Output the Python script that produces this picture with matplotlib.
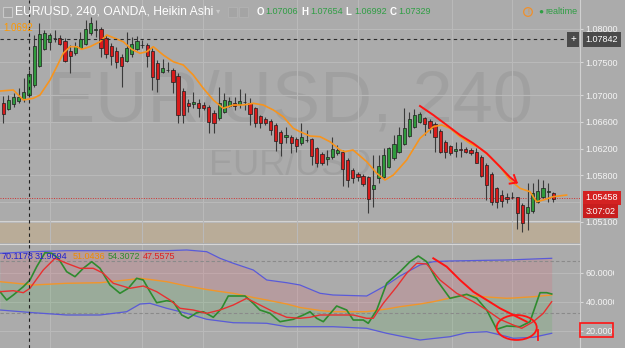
import numpy as np
import matplotlib
matplotlib.use('Agg')
import matplotlib.pyplot as plt
from matplotlib.patches import Ellipse, Rectangle

plt.rcParams['font.family'] = ['Liberation Sans', 'DejaVu Sans']

# EUR/USD 240, heikin ashi candles
opens = [1.06890, 1.06796, 1.06871, 1.06920, 1.06942, 1.07006, 1.07157, 1.07443, 1.07694, 1.07804,
         1.07862, 1.07864, 1.07819, 1.07673, 1.07634, 1.07718, 1.07774, 1.07944, 1.07990, 1.07995,
         1.07860, 1.07744, 1.07673, 1.07583, 1.07518, 1.07619, 1.07694, 1.07757, 1.07759, 1.07673,
         1.07483, 1.07357, 1.07383, 1.07383, 1.07292, 1.07071, 1.06881, 1.06871, 1.06881, 1.06856,
         1.06830, 1.06731, 1.06656, 1.06755, 1.06845, 1.06890, 1.06866, 1.06898, 1.06881, 1.06806,
         1.06690, 1.06640, 1.06615, 1.06555, 1.06454, 1.06370, 1.06379, 1.06340, 1.06279, 1.06331,
         1.06340, 1.06213, 1.06114, 1.06039, 1.06069, 1.06129, 1.06153, 1.06028, 1.05878, 1.05817,
         1.05787, 1.05768, 1.05587, 1.05753, 1.05777, 1.05927, 1.06054, 1.06153, 1.06269, 1.06389,
         1.06520, 1.06604, 1.06656, 1.06620, 1.06570, 1.06464, 1.06303, 1.06239, 1.06168, 1.06189,
         1.06189, 1.06179, 1.06153, 1.06078, 1.05953, 1.05817, 1.05602, 1.05501, 1.05467, 1.05465,
         1.05467, 1.05351, 1.05226, 1.05265, 1.05400, 1.05476, 1.05550, 1.05536]
closes = [1.06720, 1.06931, 1.06972, 1.06981, 1.07056, 1.07322, 1.07744, 1.07924, 1.07935, 1.07909,
          1.07858, 1.07774, 1.07518, 1.07598, 1.07744, 1.07845, 1.07995, 1.08094, 1.08000, 1.07709,
          1.07623, 1.07593, 1.07507, 1.07443, 1.07709, 1.07774, 1.07819, 1.07761, 1.07593, 1.07282,
          1.07242, 1.07417, 1.07385, 1.07206, 1.06705, 1.06705, 1.06841, 1.06905, 1.06815, 1.06815,
          1.06604, 1.06580, 1.06881, 1.06931, 1.06920, 1.06845, 1.06916, 1.06894, 1.06720, 1.06580,
          1.06580, 1.06580, 1.06480, 1.06318, 1.06279, 1.06404, 1.06279, 1.06243, 1.06379, 1.06325,
          1.06088, 1.05987, 1.05987, 1.06078, 1.06198, 1.06179, 1.05888, 1.05727, 1.05753, 1.05777,
          1.05667, 1.05437, 1.05652, 1.05938, 1.06103, 1.06204, 1.06269, 1.06404, 1.06505, 1.06641,
          1.06705, 1.06720, 1.06565, 1.06505, 1.06379, 1.06153, 1.06153, 1.06129, 1.06189, 1.06185,
          1.06153, 1.06129, 1.05987, 1.05787, 1.05652, 1.05400, 1.05400, 1.05416, 1.05441, 1.05469,
          1.05235, 1.05084, 1.05316, 1.05536, 1.05566, 1.05602, 1.05555, 1.05437]
highs = [1.06991, 1.07006, 1.07036, 1.07112, 1.07262, 1.07383, 1.07909, 1.08090, 1.07985, 1.07939,
         1.07985, 1.07909, 1.07864, 1.07759, 1.07808, 1.07959, 1.08135, 1.08176, 1.08135, 1.08030,
         1.07909, 1.07784, 1.07733, 1.07623, 1.07959, 1.07884, 1.07894, 1.07834, 1.07784, 1.07709,
         1.07533, 1.07544, 1.07507, 1.07408, 1.07333, 1.07107, 1.06946, 1.07056, 1.06946, 1.06905,
         1.06856, 1.06781, 1.07131, 1.07032, 1.06981, 1.06981, 1.07092, 1.07032, 1.06957, 1.06830,
         1.06705, 1.06680, 1.06640, 1.06580, 1.06479, 1.06529, 1.06404, 1.06379, 1.06589, 1.06479,
         1.06355, 1.06228, 1.06153, 1.06179, 1.06379, 1.06254, 1.06179, 1.06053, 1.05903, 1.05852,
         1.05817, 1.05787, 1.06103, 1.06103, 1.06204, 1.06228, 1.06404, 1.06529, 1.06806, 1.06755,
         1.06791, 1.06755, 1.06680, 1.06640, 1.06604, 1.06490, 1.06329, 1.06254, 1.06303, 1.06303,
         1.06228, 1.06204, 1.06204, 1.06103, 1.05978, 1.05847, 1.05626, 1.05577, 1.05527, 1.05551,
         1.05476, 1.05376, 1.05677, 1.05677, 1.05737, 1.05727, 1.05677, 1.05547]
lows = [1.06585, 1.06781, 1.06830, 1.06886, 1.06905, 1.06981, 1.07131, 1.07432, 1.07684, 1.07684,
        1.07804, 1.07759, 1.07507, 1.07337, 1.07608, 1.07709, 1.07759, 1.07909, 1.07884, 1.07583,
        1.07559, 1.07458, 1.07408, 1.07131, 1.07507, 1.07583, 1.07684, 1.07709, 1.07432, 1.07082,
        1.07056, 1.07333, 1.07357, 1.07032, 1.06580, 1.06580, 1.06755, 1.06806, 1.06680, 1.06781,
        1.06430, 1.06430, 1.06630, 1.06731, 1.06830, 1.06781, 1.06806, 1.06781, 1.06555, 1.06529,
        1.06505, 1.06555, 1.06404, 1.06168, 1.06088, 1.06279, 1.06138, 1.06153, 1.06254, 1.06303,
        1.05953, 1.05927, 1.05953, 1.05953, 1.06039, 1.06103, 1.05637, 1.05617, 1.05677, 1.05717,
        1.05637, 1.05226, 1.05325, 1.05677, 1.05753, 1.05903, 1.06028, 1.06129, 1.06254, 1.06379,
        1.06505, 1.06580, 1.06404, 1.06430, 1.06153, 1.06129, 1.06054, 1.06103, 1.06078, 1.06078,
        1.06129, 1.06103, 1.05978, 1.05772, 1.05426, 1.05351, 1.05301, 1.05321, 1.05381, 1.05437,
        1.04985, 1.04949, 1.04975, 1.05226, 1.05376, 1.05452, 1.05400, 1.05396]

# orange moving average on the price pane (x in candle index)
ma_x = [-0.64, 1.95, 3.89, 5.84, 7.14, 9.09, 10.4, 11.67, 12.98, 14.28, 15.25, 16.87, 18.81, 20.12,
        21.73, 23.35, 24.98, 26.6, 27.9, 29.18, 31.13, 33.07, 35.02, 36.96, 38.91, 40.86, 42.8, 44.75,
        46.69, 48.64, 50.58, 52.53, 54.47, 56.42, 57.72, 59.67, 61.62, 63.56, 65.51, 66.48, 68.04, 70.7,
        72.65, 74.26, 75.88, 78.48, 81.07, 83.66, 85.29, 86.91, 88.85, 90.8, 92.74, 94.69, 96.63, 98.58,
        100.53, 102.47, 103.77, 105.06, 107.0, 109.6]
ma_y = [1.07066, 1.07082, 1.06931, 1.06957, 1.07006, 1.07232, 1.07432, 1.07634, 1.07733, 1.07733,
        1.07694, 1.07733, 1.07808, 1.07909, 1.07860, 1.07808, 1.07694, 1.07634, 1.07658, 1.07733,
        1.07608, 1.07507, 1.07458, 1.07307, 1.07107, 1.06931, 1.06806, 1.06856, 1.06856, 1.06881,
        1.06856, 1.06781, 1.06680, 1.06505, 1.06454, 1.06389, 1.06379, 1.06303, 1.06179, 1.06153,
        1.06179, 1.06003, 1.05828, 1.05727, 1.05802, 1.06028, 1.06355, 1.06529, 1.06555, 1.06505,
        1.06379, 1.06279, 1.06204, 1.06078, 1.05927, 1.05727, 1.05602, 1.05551, 1.05400, 1.05426,
        1.05476, 1.05501]

# lower pane: rsi with bands
band_x = [-0.64, 5.84, 12.33, 18.81, 24.0, 26.6, 28.54, 31.79, 35.68, 39.57, 42.16, 44.75, 48.64,
          51.25, 55.14, 57.72, 61.62, 64.15, 70.7, 74.59, 77.18, 81.07, 83.66, 86.91, 90.16, 94.05,
          97.94, 99.22, 103.11, 106.69]
upper = [73.37, 74.48, 75.17, 75.17, 75.17, 75.17, 75.17, 75.17, 75.65, 74.48, 69.92, 66.48, 61.85,
         54.96, 53.09, 51.51, 45.78, 44.61, 43.92, 51.51, 57.72, 65.3, 67.58, 68.07, 68.27, 68.54,
         68.75, 68.89, 69.44, 69.92]
basis = [53.78, 51.51, 52.68, 53.09, 54.96, 56.13, 55.3, 53.78, 50.82, 48.4, 47.02, 45.78, 42.88,
         41.16, 38.4, 35.99, 33.92, 33.09, 33.09, 34.96, 36.54, 38.4, 39.98, 42.53, 44.61, 43.23,
         42.33, 42.53, 43.43, 44.61]
lower = [34.26, 32.4, 30.82, 30.82, 33.09, 38.4, 38.88, 35.44, 31.98, 27.86, 26.68, 25.5, 25.3,
         25.09, 22.75, 22.75, 22.75, 22.75, 21.64, 18.2, 16.33, 13.57, 14.61, 15.85, 18.61, 19.3,
         15.99, 14.75, 15.44, 18.2]

rsi_x = [-0.64, 0.66, 1.95, 3.89, 5.19, 6.5, 8.11, 9.42, 10.7, 12.33, 13.95, 15.56, 17.2, 18.81,
         20.76, 22.7, 24.32, 25.95, 27.24, 28.54, 29.84, 31.79, 33.07, 34.71, 35.99, 37.62, 38.91,
         40.86, 42.49, 43.77, 47.02, 48.64, 49.94, 51.89, 53.83, 56.42, 58.37, 59.67, 60.97, 62.26,
         64.86, 66.81, 68.09, 70.04, 71.01, 72.65, 74.59, 77.18, 79.12, 80.74, 82.37, 84.32, 86.91,
         90.16, 92.1, 94.05, 95.99, 97.94, 100.53, 102.47, 104.42, 105.72, 106.69]
rsi = [46.89, 41.16, 44.61, 50.33, 54.96, 64.13, 73.78, 73.37, 69.92, 60.68, 57.24, 63.02, 67.58,
       63.02, 51.51, 45.78, 49.23, 56.13, 54.96, 46.89, 39.29, 40.67, 39.98, 30.82, 28.55, 32.4,
       33.09, 29.24, 35.44, 43.92, 43.92, 38.88, 34.26, 31.98, 26.2, 27.86, 30.82, 33.09, 28.55,
       26.2, 37.02, 34.26, 27.36, 27.36, 25.09, 34.26, 52.68, 60.68, 67.58, 71.51, 67.58, 54.96,
       42.33, 45.09, 42.33, 34.26, 20.95, 23.23, 22.75, 26.2, 46.2, 46.2, 45.3]

rsima_x = [-0.64, 1.95, 3.89, 5.19, 7.78, 10.06, 12.33, 14.92, 17.51, 19.46, 21.4, 24.65, 27.24,
           29.84, 32.43, 34.38, 36.96, 39.57, 42.16, 44.75, 47.35, 49.94, 52.53, 55.14, 57.72,
           59.67, 61.62, 65.51, 68.09, 70.7, 71.98, 73.93, 76.54, 78.48, 80.43, 82.37, 84.96,
           88.21, 91.44, 94.05, 96.63, 99.22, 100.86, 103.11, 105.06, 106.69]
rsima = [46.89, 47.57, 46.2, 49.23, 61.85, 69.92, 66.48, 63.02, 63.02, 59.58, 52.68, 49.23, 50.82,
         46.89, 41.16, 35.44, 34.26, 31.98, 34.26, 37.71, 42.33, 37.71, 33.09, 29.24, 28.55, 29.24,
         30.82, 30.82, 30.82, 28.55, 28.55, 38.88, 50.33, 59.58, 66.48, 66.0, 54.96, 45.78, 39.98,
         34.26, 27.86, 23.92, 21.64, 26.2, 31.98, 39.98]

price_ticks = [1.08, 1.075, 1.07, 1.066, 1.062, 1.058, 1.051]
price_grid = price_ticks + [1.054]
osc_ticks = [60, 40, 20]
osc_levels = [68, 32]
day_lines = [9.18, 27.08, 38.91, 57.14, 69.06, 87.24, 98.91]
cross_x = 5.0
cross_price = 1.07842
last_price = 1.05458
zone_top = 1.05114

legend_vals = ['70.1178', '31.9694', '51.0436', '54.3072', '47.5575']
legend_cols = ['#2020d0', '#2020d0', '#f08a00', '#2d8a2d', '#e02020']
ohlc_names = ['O', 'H', 'L', 'C']
ohlc_vals = ['1.07006', '1.07654', '1.06992', '1.07329']

# red hand drawn marks
arrow_x = [81.07, 83.66, 86.26, 88.85, 91.44, 94.05, 96.63, 98.58, 99.88]
arrow_y = [1.06841, 1.06705, 1.06555, 1.06404, 1.06279, 1.06129, 1.05927, 1.05768, 1.05688]
osc_mark_x = [83.66, 86.26, 88.85, 91.44, 94.05, 96.63, 99.22, 101.82]
osc_mark_y = [69.92, 64.13, 54.96, 46.89, 41.16, 35.44, 30.82, 26.2]

W, H = 625, 348
bg = '#ababab'
red = '#ff1414'

fig = plt.figure(figsize=(6.25, 3.48), dpi=100, facecolor=bg)
ax = fig.add_axes([0, 1 - 243 / H, 580 / W, 243 / H], facecolor=bg)
ax2 = fig.add_axes([0, 0, 580 / W, 104 / H], facecolor=bg)

# ---- price pane
ax.set_xlim(-0.64, 112.2)
ax.set_ylim(1.04779, 1.08436)
ax.axhspan(1.04779, zone_top, color='#b9ac98', zorder=0.5)
ax.axhline(zone_top, color='#d4d4d4', lw=0.8, zorder=0.6)
for g in price_grid:
    ax.axhline(g, color='#b9b9b9', lw=0.8, zorder=1)
for d in day_lines:
    ax.axvline(d, color='#b9b9b9', lw=0.8, zorder=1)
    ax2.axvline(d, color='#b9b9b9', lw=0.8, zorder=1)

ax.text(0.5, 1 - 121.7 / 243, 'EUR/USD, 240', transform=ax.transAxes, ha='center', va='baseline',
        fontsize=52, color='k', alpha=0.06, zorder=0.8)
ax.text(0.5, 1 - 175 / 243, 'EUR/USD', transform=ax.transAxes, ha='center', va='baseline',
        fontsize=26, color='k', alpha=0.06, zorder=0.8)

x = np.arange(len(opens))
o = np.array(opens)
c = np.array(closes)
cols = np.where(c >= o, '#2f9a3c', '#d81b1b')
ax.vlines(x, lows, highs, color='#3a3a3a', lw=0.8, zorder=3)
ax.bar(x, np.maximum(np.abs(c - o), 0.00004), bottom=np.minimum(o, c), width=0.62, color=cols,
       edgecolor='#1e1e1e', linewidth=0.5, zorder=4)
ax.plot(ma_x, ma_y, color='#f7941d', lw=1.2, zorder=5)

ax.axvline(cross_x, color='#1e1e1e', lw=0.8, ls=(0, (3, 3)), zorder=6)
ax.axhline(cross_price, color='#2a2a2a', lw=0.8, ls=(0, (3, 3)), zorder=6)
ax.axhline(last_price, color='#d03030', lw=0.7, ls=(0, (1, 1.5)), zorder=2)

ax.plot(arrow_x, arrow_y, color=red, lw=1.4, zorder=8)
ax.plot([98.52, arrow_x[-1], 99.36], [1.05673, arrow_y[-1], 1.05801], color=red, lw=1.4, zorder=8)

ax.yaxis.tick_right()
ax.set_yticks(price_ticks)
ax.set_yticklabels(['%.5f' % t for t in price_ticks])
ax.tick_params(axis='y', colors='#d8d8d8', labelcolor='#f4f4f4', labelsize=6.5, length=2, pad=2)
ax.set_xticks([])
for s in ['top', 'left', 'bottom']:
    ax.spines[s].set_visible(False)
ax.spines['right'].set_color('#d0d0d0')
ax.spines['right'].set_linewidth(0.8)

box = dict(boxstyle='square,pad=0.3', ec='none')
ax.annotate('%.5f' % cross_price, xy=(1, cross_price), xycoords=('axes fraction', 'data'),
            xytext=(4, 0), textcoords='offset points', va='center', ha='left', fontsize=6.5,
            color='white', bbox=dict(box, fc='#4a4a4a'), annotation_clip=False, zorder=9)
ax.annotate('+', xy=(1, cross_price), xycoords=('axes fraction', 'data'), xytext=(-5, 0),
            textcoords='offset points', va='center', ha='center', fontsize=7, color='white',
            bbox=dict(box, fc='#4a4a4a'), annotation_clip=False, zorder=9)
ax.annotate('%.5f' % last_price, xy=(1, last_price), xycoords=('axes fraction', 'data'),
            xytext=(4, 0), textcoords='offset points', va='center', ha='left', fontsize=6.5,
            color='white', bbox=dict(box, fc='#d42222'), annotation_clip=False, zorder=9)
ax.annotate('3:07:02', xy=(1, last_price), xycoords=('axes fraction', 'data'),
            xytext=(4, -9.5), textcoords='offset points', va='center', ha='left', fontsize=6.5,
            color='white', bbox=dict(box, fc='#c81e1e'), annotation_clip=False, zorder=9)

# ---- oscillator pane
ax2.set_xlim(-0.64, 112.2)
ax2.set_ylim(8.06, 79.78)
for t in osc_ticks:
    ax2.axhline(t, color='#b9b9b9', lw=0.8, zorder=1)
ax2.fill_between(band_x, basis, upper, color='#e06070', alpha=0.2, lw=0, zorder=1.5)
ax2.fill_between(band_x, lower, basis, color='#50b050', alpha=0.18, lw=0, zorder=1.5)
for lv in osc_levels:
    ax2.axhline(lv, color='#8a8a8a', lw=0.8, ls=(0, (3, 2)), zorder=2)
ax2.plot(band_x, upper, color='#5a5ad8', lw=0.9, zorder=3)
ax2.plot(band_x, lower, color='#5a5ad8', lw=0.9, zorder=3)
ax2.plot(band_x, basis, color='#f0962a', lw=1.0, zorder=3)
ax2.plot(rsi_x, rsi, color='#2e8b2e', lw=1.2, zorder=4)
ax2.plot(rsima_x, rsima, color='#e83030', lw=1.0, zorder=4)
ax2.axvline(cross_x, color='#1e1e1e', lw=0.8, ls=(0, (3, 3)), zorder=6)

ax2.plot(osc_mark_x, osc_mark_y, color=red, lw=1.4, zorder=8)
ax2.add_patch(Ellipse((99.88, 22.19), 7.8, 17.2, fill=False, ec=red, lw=1.3, zorder=8))
ax2.plot([104.03, 104.03], [20.47, 13.57], color=red, lw=1.3, zorder=8)

ax2.yaxis.tick_right()
ax2.set_yticks(osc_ticks)
ax2.set_yticklabels(['%.4f' % t for t in osc_ticks])
ax2.tick_params(axis='y', colors='#d8d8d8', labelcolor='#f4f4f4', labelsize=6.5, length=2, pad=2)
ax2.set_xticks([])
for s in ['left', 'bottom']:
    ax2.spines[s].set_visible(False)
ax2.spines['top'].set_color('#d6d6d6')
ax2.spines['right'].set_color('#d0d0d0')
ax2.spines['top'].set_linewidth(0.8)
ax2.spines['right'].set_linewidth(0.8)

lx = [2, 35, 72.7, 108, 143]
for xp, v, col in zip(lx, legend_vals, legend_cols):
    fig.text(xp / W, 1 - 256.7 / H, v, color=col, fontsize=6.5, va='center', zorder=10)

# cut the oscillator scale labels like the screenshot does
fig.patches.append(Rectangle((614 / W, 0), 11 / W, 103 / H, transform=fig.transFigure,
                             fc=bg, ec='none', zorder=5))
fig.patches.append(Rectangle((580 / W, 1 - 337 / H), 33 / W, 14 / H, transform=fig.transFigure,
                             fill=False, ec=red, lw=1.2, zorder=6))

# ---- header
fig.patches.append(Rectangle((3 / W, 1 - 17 / H), 9 / W, 10 / H, transform=fig.transFigure,
                             fc='#a2a2a2', ec='#c8c8c8', lw=0.8, zorder=6))
fig.text(15 / W, 1 - 12 / H, 'EUR/USD, 240, OANDA, Heikin Ashi', color='white', fontsize=8.7,
         va='center')
fig.text(216 / W, 1 - 12 / H, '\u25be', color='#c8c8c8', fontsize=6, va='center')
for ix in [228, 239]:
    fig.patches.append(Rectangle((ix / W, 1 - 17 / H), 9 / W, 10 / H, transform=fig.transFigure,
                                 fc='#a4a4a4', ec='#b2b2b2', lw=0.6, zorder=6))
for k in range(4):
    fig.text((256.7 + 44.4 * k) / W, 1 - 12 / H, ohlc_names[k], color='white', fontsize=7,
             va='center', fontweight='bold')
    fig.text((265.5 + 44.4 * k) / W, 1 - 12 / H, ohlc_vals[k], color='#2f9e44', fontsize=6.5,
             va='center')
fig.text(3 / W, 1 - 28 / H, '1.0692', color='#ff9800', fontsize=7, va='center')
fig.text(528 / W, 1 - 12 / H, '!', color='#f0902a', fontsize=5, ha='center', va='center',
         bbox=dict(boxstyle='circle,pad=0.12', fc='none', ec='#f0902a', lw=0.9))
fig.text(541 / W, 1 - 12 / H, '\u25cf', color='#2f9e44', fontsize=6, ha='center', va='center')
fig.text(545 / W, 1 - 12 / H, 'realtime', color='#2f9e44', fontsize=6.5, va='center')

fig.savefig('out.png', dpi=100, facecolor=bg)
